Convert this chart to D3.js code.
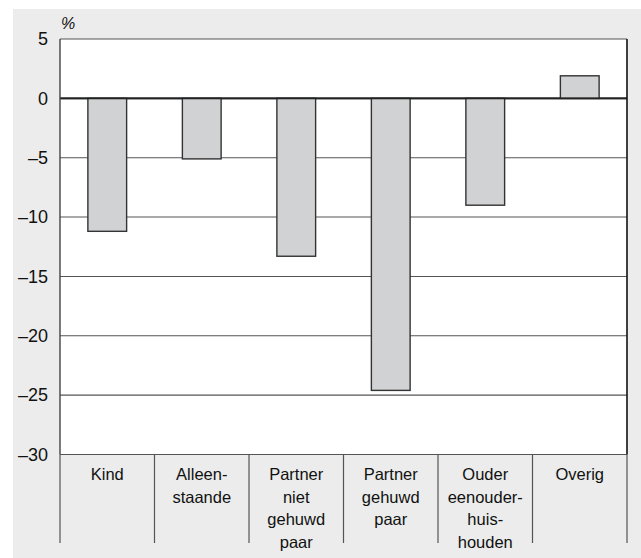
<!DOCTYPE html>
<html>
<head>
<meta charset="utf-8">
<script src="https://cdn.jsdelivr.net/npm/d3@7"></script>
<style>
  body { margin: 0; background: #fff; }
  svg { display: block; font-family: "Liberation Sans", Arial, sans-serif; }
</style>
</head>
<body>
<div id="chart"></div>
<script>
// data
const categories = ['Kind', 'Alleenstaande', 'Partner niet gehuwd paar', 'Partner gehuwd paar', 'Ouder eenouderhuishouden', 'Overig']
const labelLines = [['Kind'], ['Alleen-', 'staande'], ['Partner', 'niet', 'gehuwd', 'paar'], ['Partner', 'gehuwd', 'paar'], ['Ouder', 'eenouder-', 'huis-', 'houden'], ['Overig']]
const values = [-11.2, -5.1, -13.3, -24.6, -9.0, 1.9]
const yTicks = [5, 0, -5, -10, -15, -20, -25, -30]

const width = 641, height = 558
const plotLeft = 60, plotRight = 627, plotTop = 39, plotBottom = 454.5

const svg = d3.select('#chart').append('svg')
  .attr('width', width)
  .attr('height', height)

// grey panel
svg.append('rect')
  .attr('x', 13).attr('y', 9)
  .attr('width', width - 13).attr('height', height - 9)
  .attr('fill', '#ebeceb')

const y = d3.scaleLinear().domain([-30, 5]).range([plotBottom, plotTop])
const x = d3.scaleBand().domain(categories).range([plotLeft, plotRight])
const bw = x.bandwidth()
const barW = bw * 0.41

// plot background
svg.append('rect')
  .attr('x', plotLeft).attr('y', plotTop)
  .attr('width', plotRight - plotLeft).attr('height', plotBottom - plotTop)
  .attr('fill', '#fff')

// gridlines
svg.append('g')
  .selectAll('line')
  .data(yTicks)
  .enter()
  .append('line')
  .attr('x1', plotLeft).attr('x2', plotRight)
  .attr('y1', d => y(d)).attr('y2', d => y(d))
  .attr('stroke', d => d === 0 ? '#222' : '#555')
  .attr('stroke-width', d => d === 0 ? 1.6 : 1.1)

// bars
svg.append('g')
  .selectAll('rect')
  .data(values)
  .enter()
  .append('rect')
  .attr('x', (d, i) => x(categories[i]) + (bw - barW) / 2)
  .attr('y', d => y(Math.max(0, d)))
  .attr('width', barW)
  .attr('height', d => Math.abs(y(d) - y(0)))
  .attr('fill', '#d1d2d3')
  .attr('stroke', '#333')
  .attr('stroke-width', 1.4)

// redraw zero line on top
svg.append('line')
  .attr('x1', plotLeft).attr('x2', plotRight)
  .attr('y1', y(0)).attr('y2', y(0))
  .attr('stroke', '#222').attr('stroke-width', 1.6)

// frame
svg.append('line')
  .attr('x1', plotLeft).attr('x2', plotLeft).attr('y1', plotTop).attr('y2', plotBottom)
  .attr('stroke', '#444').attr('stroke-width', 1.4)
svg.append('line')
  .attr('x1', plotRight).attr('x2', plotRight).attr('y1', plotTop).attr('y2', plotBottom)
  .attr('stroke', '#111').attr('stroke-width', 1.6)

// y axis labels
const yAxis = d3.axisLeft(y)
  .tickValues(yTicks)
  .tickSize(0)
  .tickPadding(12)
  .tickFormat(d => d < 0 ? '\u2013' + Math.abs(d) : d)
svg.append('g')
  .attr('transform', `translate(${plotLeft},0)`)
  .call(yAxis)
  .call(g => g.select('.domain').remove())
  .selectAll('text')
  .attr('font-size', 18)
  .attr('fill', '#111')
  .attr('font-family', '"Liberation Sans", Arial, sans-serif')

svg.append('text')
  .attr('x', plotLeft + 1).attr('y', 29)
  .attr('font-size', 16)
  .attr('font-style', 'italic')
  .attr('fill', '#111')
  .text('%')

// category separators
svg.append('g')
  .selectAll('line')
  .data(categories.concat(['end']))
  .enter()
  .append('line')
  .attr('x1', (d, i) => i < categories.length ? x(d) : plotRight)
  .attr('x2', (d, i) => i < categories.length ? x(d) : plotRight)
  .attr('y1', plotBottom).attr('y2', 543)
  .attr('stroke', '#555').attr('stroke-width', 1.2)

// category labels
const lab = svg.append('g')
  .selectAll('text')
  .data(categories)
  .enter()
  .append('text')
  .attr('x', d => x(d) + bw / 2)
  .attr('y', 480)
  .attr('text-anchor', 'middle')
  .attr('font-size', 16.5)
  .attr('fill', '#111')
lab.selectAll('tspan')
  .data((d, i) => labelLines[i])
  .enter()
  .append('tspan')
  .attr('x', function () { return this.parentNode.getAttribute('x') })
  .attr('dy', (d, i) => i === 0 ? 0 : 22.5)
  .text(d => d)
</script>
</body>
</html>
